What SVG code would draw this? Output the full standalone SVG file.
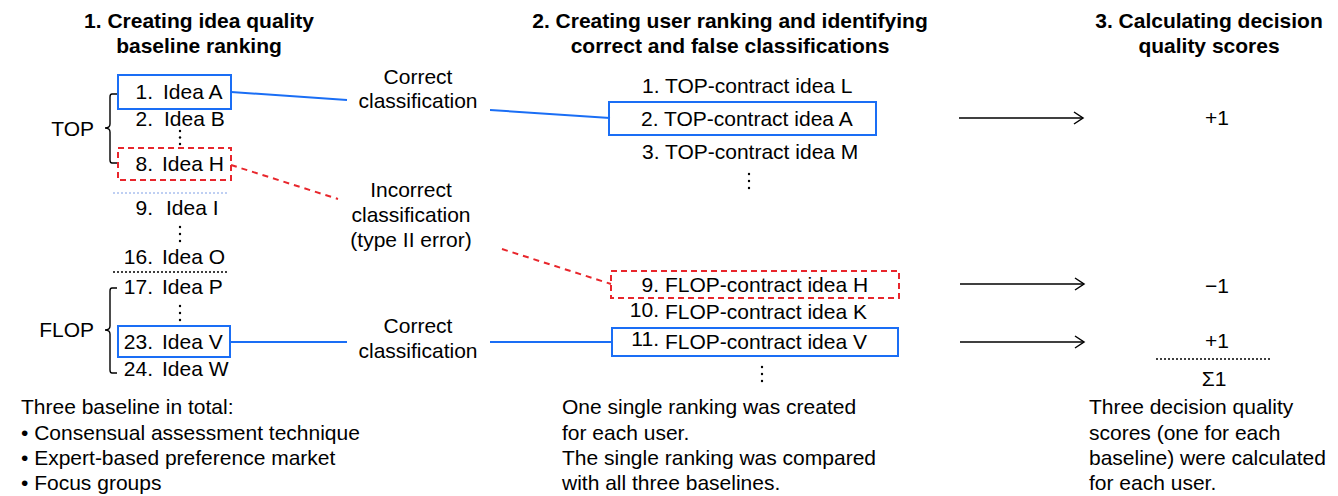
<svg xmlns="http://www.w3.org/2000/svg" width="1338" height="496" viewBox="0 0 1338 496">
<style>
text{font-family:"Liberation Sans",Arial,Helvetica,sans-serif;font-size:21px;fill:#000}
.h{font-weight:bold}
.m{text-anchor:middle}
.e{text-anchor:end}
.bb{fill:none;stroke:#1a6ef5;stroke-width:2}
.rb{fill:none;stroke:#e8262c;stroke-width:2;stroke-dasharray:6 4}
.bl{fill:none;stroke:#1a6ef5;stroke-width:2}
.rl{fill:none;stroke:#e8262c;stroke-width:2;stroke-dasharray:6 5}
.ar{fill:none;stroke:#000;stroke-width:1.5}
.br{fill:none;stroke:#000;stroke-width:1.4}
.dt{fill:#000}
</style>
<defs>
<marker id="ah" markerWidth="12" markerHeight="14" refX="10" refY="7" orient="auto" markerUnits="userSpaceOnUse">
<path d="M1,1 L10,7 L1,13" fill="none" stroke="#000" stroke-width="1.5"/>
</marker>
</defs>
<rect width="1338" height="496" fill="#fff"/>

<g id="headers">
<text class="h m" x="199" y="28">1. Creating idea quality</text>
<text class="h m" x="199" y="53">baseline ranking</text>
<text class="h m" x="730" y="28">2. Creating user ranking and identifying</text>
<text class="h m" x="730" y="53">correct and false classifications</text>
<text class="h m" x="1209" y="28">3. Calculating decision</text>
<text class="h m" x="1209" y="53">quality scores</text>
</g>

<g id="baseline-ranking">
<g id="brace-top"><path class="br" d="M117,94 H112 Q110,94 110,97 V124 Q110,128 105,128 Q110,128 110,132 V160 Q110,163 112,163 H117"/><text class="e" x="94" y="136">TOP</text></g>
<g id="brace-flop"><path class="br" d="M117,288 H112 Q110,288 110,291 V326 Q110,330 105,330 Q110,330 110,334 V370 Q110,373 112,373 H117"/><text class="e" x="94" y="337">FLOP</text></g>
<g id="idea-a"><rect class="bb" x="118" y="75" width="113" height="34"/><text class="e" x="153" y="99">1.</text><text x="163" y="99">Idea A</text></g>
<g id="idea-b"><text class="e" x="153" y="126">2.</text><text x="164" y="126">Idea B</text></g>
<g id="dots-1"><circle class="dt" cx="180" cy="131" r="1.2"/><circle class="dt" cx="180" cy="137.5" r="1.2"/><circle class="dt" cx="180" cy="144" r="1.2"/></g>
<g id="idea-h"><rect class="rb" x="118" y="148" width="113" height="32"/><text class="e" x="153" y="171">8.</text><text x="162" y="171">Idea H</text></g>
<line x1="113" y1="193" x2="229" y2="193" stroke="#7f9fe6" stroke-width="1" stroke-dasharray="2 2"/>
<g id="idea-i"><text class="e" x="153" y="215">9.</text><text x="166" y="215">Idea I</text></g>
<g id="dots-2"><circle class="dt" cx="180" cy="227" r="1.2"/><circle class="dt" cx="180" cy="234" r="1.2"/><circle class="dt" cx="180" cy="241" r="1.2"/></g>
<g id="idea-o"><text class="e" x="153" y="264">16.</text><text x="162" y="264">Idea O</text></g>
<line x1="113" y1="272" x2="229" y2="272" stroke="#000" stroke-width="1.3" stroke-dasharray="2 2"/>
<g id="idea-p"><text class="e" x="153" y="294">17.</text><text x="162" y="294">Idea P</text></g>
<g id="dots-3"><circle class="dt" cx="180" cy="306" r="1.2"/><circle class="dt" cx="180" cy="313" r="1.2"/><circle class="dt" cx="180" cy="320" r="1.2"/></g>
<g id="idea-v"><rect class="bb" x="118" y="326" width="112" height="31"/><text class="e" x="153" y="349">23.</text><text x="162" y="349">Idea V</text></g>
<g id="idea-w"><text class="e" x="153" y="376">24.</text><text x="162" y="376">Idea W</text></g>
</g>

<g id="user-ranking">
<g id="top-l"><text x="642" y="93">1. TOP-contract idea L</text></g>
<g id="top-a"><rect class="bb" x="609" y="102" width="267" height="33"/><text x="641" y="126">2. TOP-contract idea A</text></g>
<g id="top-m"><text x="642" y="159">3. TOP-contract idea M</text></g>
<g id="dots-4"><circle class="dt" cx="749" cy="174" r="1.2"/><circle class="dt" cx="749" cy="181" r="1.2"/><circle class="dt" cx="749" cy="188" r="1.2"/></g>
<g id="flop-h"><rect class="rb" x="611" y="271" width="288" height="27"/><text class="e" x="659" y="292">9.</text><text x="665" y="292">FLOP-contract idea H</text></g>
<g id="flop-k"><text class="e" x="659" y="317">10.</text><text x="665" y="319">FLOP-contract idea K</text></g>
<g id="flop-v"><rect class="bb" x="612" y="328" width="286" height="28"/><text class="e" x="659" y="346">11.</text><text x="665" y="349">FLOP-contract idea V</text></g>
<g id="dots-5"><circle class="dt" cx="762" cy="367" r="1.2"/><circle class="dt" cx="762" cy="374" r="1.2"/><circle class="dt" cx="762" cy="381" r="1.2"/></g>
</g>

<g id="scores">
<g id="score-1"><text class="m" x="1217" y="125">+1</text></g>
<g id="score-2"><text class="m" x="1217" y="293">−1</text></g>
<g id="score-3"><text class="m" x="1217" y="348">+1</text></g>
<line x1="1156" y1="359" x2="1272" y2="359" stroke="#000" stroke-width="1.3" stroke-dasharray="2 2"/>
<g id="score-sum"><text class="m" x="1214" y="386">Σ1</text></g>
</g>

<g id="connectors">
<polyline class="bl" points="231,92 347,100"/>
<polyline class="bl" points="490,110 610,118"/>
<text class="m" x="418" y="84">Correct</text>
<text class="m" x="418" y="108">classification</text>
<polyline class="rl" points="231,165 338,199"/>
<polyline class="rl" points="502,249 611,284"/>
<text class="m" x="411" y="197">Incorrect</text>
<text class="m" x="411" y="222">classification</text>
<text class="m" x="411" y="247">(type II error)</text>
<polyline class="bl" points="230,342 347,342"/>
<polyline class="bl" points="490,342 612,342"/>
<text class="m" x="418" y="333">Correct</text>
<text class="m" x="418" y="358">classification</text>
<line class="ar" x1="959" y1="118" x2="1083" y2="118" marker-end="url(#ah)"/>
<line class="ar" x1="960" y1="284" x2="1084" y2="284" marker-end="url(#ah)"/>
<line class="ar" x1="960" y1="342" x2="1084" y2="342" marker-end="url(#ah)"/>
</g>

<g id="notes">
<text x="21" y="414">Three baseline in total:</text>
<text x="21" y="440">• Consensual assessment technique</text>
<text x="21" y="465">• Expert-based preference market</text>
<text x="21" y="490">• Focus groups</text>
<text x="562" y="414">One single ranking was created</text>
<text x="562" y="440">for each user.</text>
<text x="562" y="465">The single ranking was compared</text>
<text x="562" y="490">with all three baselines.</text>
<text x="1089" y="414">Three decision quality</text>
<text x="1089" y="440">scores (one for each</text>
<text x="1089" y="465">baseline) were calculated</text>
<text x="1089" y="490">for each user.</text>
</g>
</svg>
